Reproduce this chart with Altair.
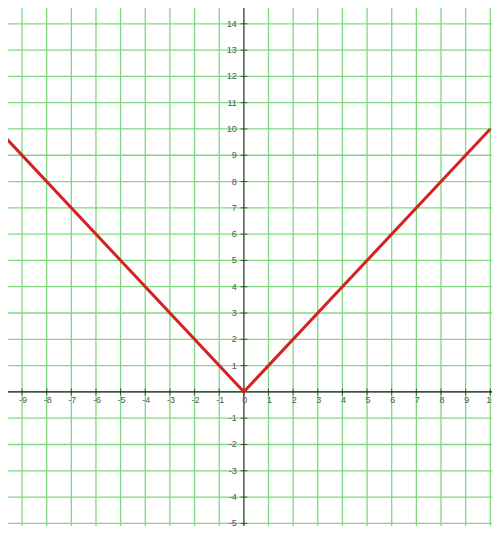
import altair as alt
import pandas as pd

# domain of the visible window (the reference is a crop of a larger graph)
x_domain = [-9.57, 10.07]
y_domain = [-5.10, 14.60]

# function y = |x|
line_x = [-10, 0, 10]
line_y = [10, 0, 10]

# grid lines
grid_x = list(range(-10, 11))
grid_y = list(range(-5, 16))

# tick labels
x_tick_vals = [v for v in range(-10, 11)]
x_tick_labels = [str(v) for v in x_tick_vals]
y_tick_vals = [v for v in range(-5, 16) if v != 0]
y_tick_labels = [str(v) for v in y_tick_vals]

W, H = 484, 518
xs = alt.Scale(domain=x_domain, nice=False, zero=False)
ys = alt.Scale(domain=y_domain, nice=False, zero=False)

GREEN = "#80d880"
AXIS = "#555555"

df_line = pd.DataFrame({"x": line_x, "y": line_y})
df_gx = pd.DataFrame({"x": grid_x})
df_gy = pd.DataFrame({"y": grid_y})
df_xt = pd.DataFrame({"x": x_tick_vals, "label": x_tick_labels, "y": [0] * len(x_tick_vals)})
df_yt = pd.DataFrame({"y": y_tick_vals, "label": y_tick_labels, "x": [0] * len(y_tick_vals)})
df_axis = pd.DataFrame({"v": [0]})

gx = alt.Chart(df_gx).mark_rule(color=GREEN, strokeWidth=1.3, clip=True).encode(
    x=alt.X("x:Q", scale=xs, axis=None))
gy = alt.Chart(df_gy).mark_rule(color=GREEN, strokeWidth=1.3, clip=True).encode(
    y=alt.Y("y:Q", scale=ys, axis=None))

xaxis = alt.Chart(df_axis).mark_rule(color="#222222", strokeWidth=1.2, clip=True).encode(
    y=alt.Y("v:Q", scale=ys, axis=None))
yaxis = alt.Chart(df_axis).mark_rule(color="#666666", strokeWidth=1.6, clip=True).encode(
    x=alt.X("v:Q", scale=xs, axis=None))

xticks = alt.Chart(df_xt).mark_tick(orient="vertical", color="#222222", size=7, thickness=1, clip=True).encode(
    x=alt.X("x:Q", scale=xs, axis=None), y=alt.Y("y:Q", scale=ys, axis=None))
yticks = alt.Chart(df_yt).mark_tick(orient="horizontal", color="#222222", size=7, thickness=1, clip=True).encode(
    x=alt.X("x:Q", scale=xs, axis=None), y=alt.Y("y:Q", scale=ys, axis=None))

xlabels = alt.Chart(df_xt).mark_text(align="center", baseline="middle", dx=1, dy=8, fontSize=9,
                                      font="Liberation Sans", color=AXIS, clip=True).encode(
    x=alt.X("x:Q", scale=xs, axis=None), y=alt.Y("y:Q", scale=ys, axis=None), text="label:N")
ylabels = alt.Chart(df_yt).mark_text(align="right", baseline="middle", dx=-7, dy=0, fontSize=9,
                                      font="Liberation Sans", color=AXIS, clip=True).encode(
    x=alt.X("x:Q", scale=xs, axis=None), y=alt.Y("y:Q", scale=ys, axis=None), text="label:N")

fline = alt.Chart(df_line).mark_line(color="#d42222", strokeWidth=3, clip=True).encode(
    x=alt.X("x:Q", scale=xs, axis=None), y=alt.Y("y:Q", scale=ys, axis=None))

chart = alt.layer(gx, gy, xaxis, yaxis, xticks, yticks, xlabels, ylabels, fline).properties(
    width=W, height=H, padding=0, autosize=alt.AutoSizeParams(type="none"),
    background="white"
).configure_view(stroke=None)

chart.save("out.html", embed_options={"renderer": "svg", "actions": False})
